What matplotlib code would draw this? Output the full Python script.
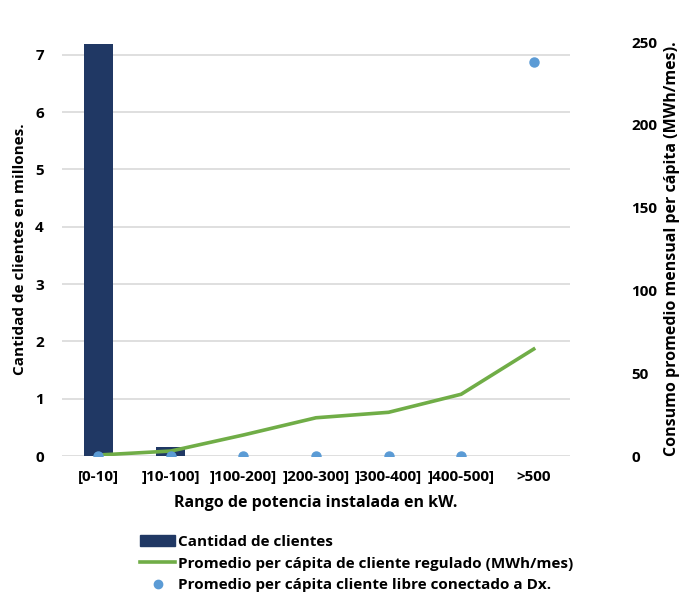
import matplotlib
matplotlib.use("Agg")
import matplotlib.pyplot as plt
from matplotlib.lines import Line2D
from matplotlib.patches import Patch

plt.rcParams["font.family"] = ["Open Sans", "DejaVu Sans"]
plt.rcParams["font.weight"] = "bold"

# datos
rangos = ["[0-10]", "]10-100]", "]100-200]", "]200-300]", "]300-400]", "]400-500]", ">500"]
clientes_mill = [7.18, 0.15, 0.005, 0.003, 0.002, 0.001, 0.001]
prom_regulado = [0.6, 3.0, 12.7, 23.1, 26.4, 37.3, 64.6]
prom_libre = [0, 0, 0, 0, 0, 0, 238]

NAVY = "#203864"
GREEN = "#70AD47"
BLUE = "#5B9BD5"
GRID = "#D9D9D9"

fig = plt.figure(figsize=(6.81, 5.93), dpi=100)
ax = fig.add_axes([0.091, 0.231, 0.746, 0.698])
ax2 = ax.twinx()

x = list(range(len(rangos)))
ax.bar(x, clientes_mill, width=0.4, color=NAVY, zorder=2)
ax.set_ylim(0, 7.22)
ax.set_yticks(range(0, 8))
ax.set_xlim(-0.5, 6.5)
ax.grid(axis="y", color=GRID, linewidth=1.2, zorder=0)
ax.set_axisbelow(True)

ax2.plot(x, prom_regulado, color=GREEN, linewidth=2.6, zorder=3)
ax2.plot(x, prom_libre, "o", color=BLUE, markersize=6.5, zorder=4)
ax2.set_ylim(0, 250)
ax2.set_yticks(range(0, 251, 50))

for a in (ax, ax2):
    for s in a.spines.values():
        s.set_visible(False)
    a.tick_params(length=0, labelsize=11)

ax.set_xticks(x)
ax.set_xticklabels(rangos, fontsize=11, fontweight="bold")
ax.tick_params(axis="x", pad=10)
ax.tick_params(axis="y", pad=13)
ax2.tick_params(axis="y", pad=44)

ax.set_xlabel("Rango de potencia instalada en kW.", fontsize=11.5, fontweight="bold", labelpad=8)
ax.set_ylabel("Cantidad de clientes en millones.", fontsize=11, fontweight="bold", labelpad=6)
ax2.set_ylabel("Consumo promedio mensual per cápita (MWh/mes).", fontsize=11.5,
               fontweight="bold", labelpad=5)

handles = [
    Patch(facecolor=NAVY, edgecolor=NAVY),
    Line2D([0], [0], color=GREEN, linewidth=2.6),
    Line2D([0], [0], marker="o", color=BLUE, linestyle="none", markersize=6),
]
labels = [
    "Cantidad de clientes",
    "Promedio per cápita de cliente regulado (MWh/mes)",
    "Promedio per cápita cliente libre conectado a Dx.",
]
fig.legend(handles, labels, loc="upper left", bbox_to_anchor=(0.197, 0.108),
           frameon=False, fontsize=11, handlelength=2.3, handletextpad=0.2,
           labelspacing=0.5, borderaxespad=0)

fig.savefig("out.png", dpi=100)
